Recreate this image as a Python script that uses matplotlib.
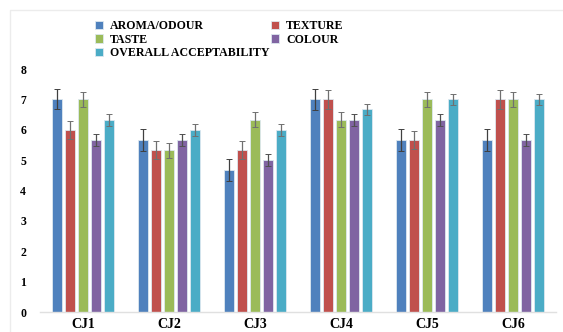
import matplotlib
matplotlib.use("Agg")
import matplotlib.pyplot as plt
import numpy as np
from matplotlib.patches import Rectangle

categories = ["CJ1", "CJ2", "CJ3", "CJ4", "CJ5", "CJ6"]
series_names = ["AROMA/ODOUR", "TEXTURE", "TASTE", "COLOUR", "OVERALL ACCEPTABILITY"]
aroma = [7.0, 5.67, 4.67, 7.0, 5.67, 5.67]
texture = [6.0, 5.33, 5.33, 7.0, 5.67, 7.0]
taste = [7.0, 5.33, 6.33, 6.33, 7.0, 7.0]
colour = [5.67, 5.67, 5.0, 6.33, 6.33, 5.67]
overall = [6.33, 6.0, 6.0, 6.67, 7.0, 7.0]
aroma_err = [0.33, 0.36, 0.36, 0.35, 0.36, 0.36]
texture_err = [0.30, 0.29, 0.29, 0.30, 0.30, 0.30]
taste_err = [0.26, 0.25, 0.25, 0.25, 0.26, 0.26]
colour_err = [0.20, 0.20, 0.20, 0.19, 0.19, 0.19]
overall_err = [0.19, 0.19, 0.19, 0.18, 0.18, 0.18]
yticks = [0, 1, 2, 3, 4, 5, 6, 7, 8]

values = [aroma, texture, taste, colour, overall]
errors = [aroma_err, texture_err, taste_err, colour_err, overall_err]
colors = ["#4F81BD", "#C0504D", "#9BBB59", "#8064A2", "#4BACC6"]
err_colors = ["#404040", "#707070", "#707070", "#505050", "#707070"]

plt.rcParams['font.family'] = ['Liberation Serif', 'DejaVu Serif']
fig = plt.figure(figsize=(5.63, 3.32), dpi=100)
ax = fig.add_axes([0.071, 0.060, 0.917, 0.732])

x = np.arange(len(categories))
step = 0.151
width = 0.122
handles = []
for i, (vals, errs, c, ec, name) in enumerate(zip(values, errors, colors, err_colors, series_names)):
    pos = x + (i - 2) * step
    b = ax.bar(pos, vals, width, color=c, edgecolor="#dde8f0", linewidth=0.6, label=name, zorder=2)
    ax.errorbar(pos, vals, yerr=errs, fmt="none", ecolor=ec, elinewidth=0.9, capsize=2.2, capthick=0.7, zorder=3)
    handles.append(b)

ax.set_ylim(0, 8)
ax.set_xlim(-0.5, 5.5)
ax.set_yticks(yticks)
ax.set_yticklabels([str(t) for t in yticks], fontweight="bold", fontsize=8.5)
ax.set_xticks(x)
ax.set_xticklabels(categories, fontweight="bold", fontsize=10)
ax.tick_params(axis="both", length=0)
ax.tick_params(axis="y", pad=10)
ax.tick_params(axis="x", pad=4)
for s in ["top", "right", "left"]:
    ax.spines[s].set_visible(False)
ax.spines["bottom"].set_color("#e0e0e0")
ax.spines["bottom"].set_linewidth(1.0)

order = [0, 2, 4, 1, 3]
leg = fig.legend([handles[k] for k in order], [series_names[k] for k in order],
                 ncol=2, loc="upper left", bbox_to_anchor=(0.168, 0.939),
                 frameon=False, prop={"weight": "bold", "size": 8.6},
                 handlelength=0.7, handleheight=0.7, handletextpad=0.6,
                 columnspacing=0.1, labelspacing=0.12, borderpad=0, borderaxespad=0)

fig.patches.append(Rectangle((10 / 563, -0.1), 1.2, 1 - 10 / 332 + 0.1, transform=fig.transFigure,
                             fill=False, edgecolor="#ececec", linewidth=1.0))

fig.savefig("out.png", dpi=100)
